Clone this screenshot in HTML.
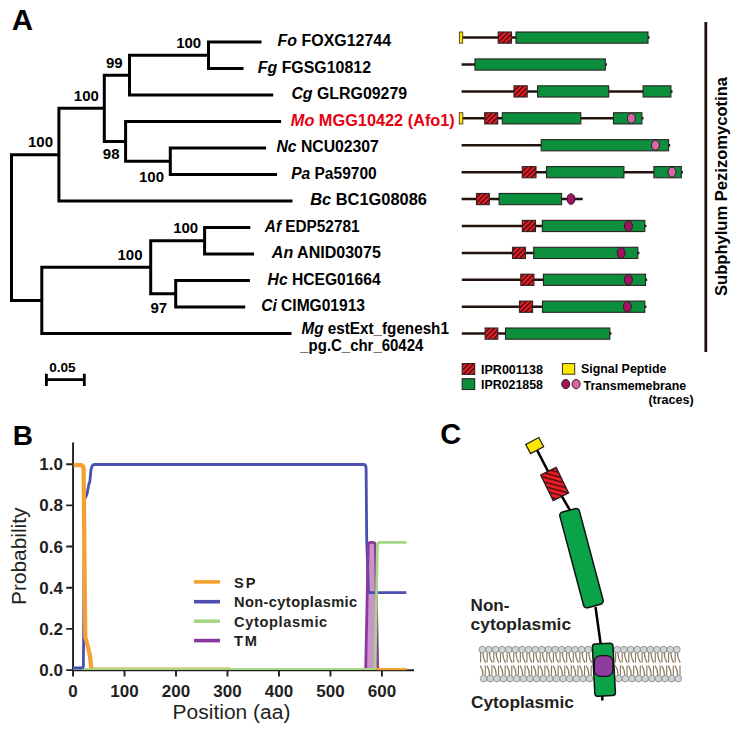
<!DOCTYPE html>
<html><head><meta charset="utf-8"><style>
html,body{margin:0;padding:0;background:#fff;}
svg{display:block;}
text{font-family:"Liberation Sans",sans-serif;}
.b{font-weight:bold;}
</style></head><body>
<svg width="741" height="734" viewBox="0 0 741 734">
<defs>
<pattern id="hatch" patternUnits="userSpaceOnUse" width="3.5" height="3.5" patternTransform="rotate(45)">
<rect width="3.5" height="3.5" fill="#ee1c24"/><rect width="1.35" height="3.5" fill="#3b0d0d"/>
</pattern>
<pattern id="hatch2" patternUnits="userSpaceOnUse" width="4.35" height="4.35" patternTransform="rotate(41)">
<rect width="4.35" height="4.35" fill="#ee1c24"/><rect width="4.35" height="1.3" fill="#3b0d0d"/>
</pattern>
</defs>
<rect width="741" height="734" fill="#fff"/>
<path d="M261.5,42.10H208.5V68.59H243.5 M208.5,55.34H129.5V95.08H273.2 M266.1,148.06H170.3V174.55H277.0 M281.1,121.57H125.6V161.31H170.3 M129.5,75.21H104.3V141.44H125.6 M104.3,108.33H58.9V201.04H292.5 M250.3,227.53H204.6V254.02H254.0 M249.9,280.51H175.7V307.00H245.2 M204.6,240.77H150.7V293.75H175.7 M150.7,267.26H41.8V333.49H291.5 M58.9,154.68H11.5V300.38H41.8" fill="none" stroke="#000" stroke-width="3" stroke-linejoin="miter"/>
<path d="M46.4,379.7H84.3 M46.4,373.7V385.9 M84.3,373.7V385.9" stroke="#000" stroke-width="2.8" fill="none"/>
<text x="49.2" y="372.4" class="b" font-size="13.6">0.05</text>
<text x="176.2" y="48.0" class="b" font-size="15">100</text>
<text x="106.0" y="67.8" class="b" font-size="15">99</text>
<text x="73.8" y="101.0" class="b" font-size="15">100</text>
<text x="28.0" y="147.4" class="b" font-size="15">100</text>
<text x="102.8" y="158.6" class="b" font-size="15">98</text>
<text x="139.0" y="181.8" class="b" font-size="15">100</text>
<text x="173.2" y="233.0" class="b" font-size="15">100</text>
<text x="117.5" y="259.8" class="b" font-size="15">100</text>
<text x="150.5" y="312.7" class="b" font-size="15">97</text>
<text x="277.6" y="46.10" class="b" font-size="16" fill="#000" textLength="113.5" lengthAdjust="spacingAndGlyphs"><tspan font-style="italic">Fo</tspan> FOXG12744</text>
<text x="257.8" y="72.59" class="b" font-size="16" fill="#000" textLength="113.2" lengthAdjust="spacingAndGlyphs"><tspan font-style="italic">Fg</tspan> FGSG10812</text>
<text x="291.4" y="99.08" class="b" font-size="16" fill="#000" textLength="115.7" lengthAdjust="spacingAndGlyphs"><tspan font-style="italic">Cg</tspan> GLRG09279</text>
<text x="290.8" y="125.57" class="b" font-size="16" fill="#e60012" textLength="164.0" lengthAdjust="spacingAndGlyphs"><tspan font-style="italic">Mo</tspan> MGG10422 (Afo1)</text>
<text x="276.4" y="152.06" class="b" font-size="16" fill="#000" textLength="102.5" lengthAdjust="spacingAndGlyphs"><tspan font-style="italic">Nc</tspan> NCU02307</text>
<text x="291.2" y="178.55" class="b" font-size="16" fill="#000" textLength="85.5" lengthAdjust="spacingAndGlyphs"><tspan font-style="italic">Pa</tspan> Pa59700</text>
<text x="310.2" y="205.04" class="b" font-size="16" fill="#000" textLength="116.7" lengthAdjust="spacingAndGlyphs"><tspan font-style="italic">Bc</tspan> BC1G08086</text>
<text x="264.8" y="231.53" class="b" font-size="16" fill="#000" textLength="94.7" lengthAdjust="spacingAndGlyphs"><tspan font-style="italic">Af</tspan> EDP52781</text>
<text x="271.8" y="258.02" class="b" font-size="16" fill="#000" textLength="109.1" lengthAdjust="spacingAndGlyphs"><tspan font-style="italic">An</tspan> ANID03075</text>
<text x="267.6" y="284.51" class="b" font-size="16" fill="#000" textLength="113.0" lengthAdjust="spacingAndGlyphs"><tspan font-style="italic">Hc</tspan> HCEG01664</text>
<text x="261.2" y="311.00" class="b" font-size="16" fill="#000" textLength="103.8" lengthAdjust="spacingAndGlyphs"><tspan font-style="italic">Ci</tspan> CIMG01913</text>
<text x="301.6" y="334.09" class="b" font-size="16" fill="#000" textLength="147.3" lengthAdjust="spacingAndGlyphs"><tspan font-style="italic">Mg</tspan> estExt_fgenesh1</text>
<text x="300.3" y="351.09" class="b" font-size="16" textLength="123" lengthAdjust="spacingAndGlyphs">_pg.C_chr_60424</text>
<line x1="461" y1="37.60" x2="649.6" y2="37.60" stroke="#22130f" stroke-width="2.5"/>
<rect x="516" y="32.00" width="132.0" height="11.2" fill="#0b8f3c" stroke="#2b2222" stroke-width="1.1"/>
<rect x="498.2" y="32.00" width="13.3" height="11.2" fill="url(#hatch)" stroke="#2b2222" stroke-width="1.1"/>
<rect x="459.4" y="32.00" width="3.3" height="11.2" fill="#ffe800" stroke="#4a3c20" stroke-width="0.9"/>
<line x1="461.6" y1="64.51" x2="606.9" y2="64.51" stroke="#22130f" stroke-width="2.5"/>
<rect x="475" y="58.91" width="130.3" height="11.2" fill="#0b8f3c" stroke="#2b2222" stroke-width="1.1"/>
<line x1="461.6" y1="91.42" x2="672.5" y2="91.42" stroke="#22130f" stroke-width="2.5"/>
<rect x="537.6" y="85.82" width="71.1" height="11.2" fill="#0b8f3c" stroke="#2b2222" stroke-width="1.1"/>
<rect x="643.1" y="85.82" width="27.8" height="11.2" fill="#0b8f3c" stroke="#2b2222" stroke-width="1.1"/>
<rect x="514" y="85.82" width="13.2" height="11.2" fill="url(#hatch)" stroke="#2b2222" stroke-width="1.1"/>
<line x1="461" y1="118.33" x2="643.5" y2="118.33" stroke="#22130f" stroke-width="2.5"/>
<rect x="502.3" y="112.73" width="78.5" height="11.2" fill="#0b8f3c" stroke="#2b2222" stroke-width="1.1"/>
<rect x="613.5" y="112.73" width="28.4" height="11.2" fill="#0b8f3c" stroke="#2b2222" stroke-width="1.1"/>
<rect x="484.7" y="112.73" width="13.0" height="11.2" fill="url(#hatch)" stroke="#2b2222" stroke-width="1.1"/>
<rect x="459.3" y="112.73" width="3.5" height="11.2" fill="#ffe800" stroke="#4a3c20" stroke-width="0.9"/>
<ellipse cx="631.4" cy="118.33" rx="4" ry="5" fill="#d766a8" stroke="#2b1a22" stroke-width="1"/>
<line x1="461.6" y1="145.24" x2="670.2" y2="145.24" stroke="#22130f" stroke-width="2.5"/>
<rect x="541.2" y="139.64" width="127.4" height="11.2" fill="#0b8f3c" stroke="#2b2222" stroke-width="1.1"/>
<ellipse cx="655.4" cy="145.24" rx="4" ry="5" fill="#d766a8" stroke="#2b1a22" stroke-width="1"/>
<line x1="461.6" y1="172.15" x2="682.9" y2="172.15" stroke="#22130f" stroke-width="2.5"/>
<rect x="546.5" y="166.55" width="77.4" height="11.2" fill="#0b8f3c" stroke="#2b2222" stroke-width="1.1"/>
<rect x="653.9" y="166.55" width="27.4" height="11.2" fill="#0b8f3c" stroke="#2b2222" stroke-width="1.1"/>
<rect x="522.3" y="166.55" width="13.7" height="11.2" fill="url(#hatch)" stroke="#2b2222" stroke-width="1.1"/>
<ellipse cx="672" cy="172.15" rx="4" ry="5" fill="#d766a8" stroke="#2b1a22" stroke-width="1"/>
<line x1="461.6" y1="199.06" x2="582.7" y2="199.06" stroke="#22130f" stroke-width="2.5"/>
<rect x="499.1" y="193.46" width="62.5" height="11.2" fill="#0b8f3c" stroke="#2b2222" stroke-width="1.1"/>
<rect x="476.5" y="193.46" width="12.8" height="11.2" fill="url(#hatch)" stroke="#2b2222" stroke-width="1.1"/>
<ellipse cx="571" cy="199.06" rx="4" ry="5.3" fill="#a3125f" stroke="#2b1a22" stroke-width="1"/>
<line x1="461.8" y1="225.97" x2="646.4" y2="225.97" stroke="#22130f" stroke-width="2.5"/>
<rect x="542.3" y="220.37" width="102.5" height="11.2" fill="#0b8f3c" stroke="#2b2222" stroke-width="1.1"/>
<rect x="522.3" y="220.37" width="13.2" height="11.2" fill="url(#hatch)" stroke="#2b2222" stroke-width="1.1"/>
<ellipse cx="628.4" cy="225.97" rx="4" ry="5.3" fill="#a3125f" stroke="#2b1a22" stroke-width="1"/>
<line x1="461.8" y1="252.88" x2="639.4" y2="252.88" stroke="#22130f" stroke-width="2.5"/>
<rect x="533.7" y="247.28" width="104.1" height="11.2" fill="#0b8f3c" stroke="#2b2222" stroke-width="1.1"/>
<rect x="512.5" y="247.28" width="12.9" height="11.2" fill="url(#hatch)" stroke="#2b2222" stroke-width="1.1"/>
<ellipse cx="621.2" cy="252.88" rx="4" ry="5.3" fill="#a3125f" stroke="#2b1a22" stroke-width="1"/>
<line x1="461.8" y1="279.79" x2="647.1" y2="279.79" stroke="#22130f" stroke-width="2.5"/>
<rect x="543.4" y="274.19" width="102.1" height="11.2" fill="#0b8f3c" stroke="#2b2222" stroke-width="1.1"/>
<rect x="520.8" y="274.19" width="13.1" height="11.2" fill="url(#hatch)" stroke="#2b2222" stroke-width="1.1"/>
<ellipse cx="628.4" cy="279.79" rx="4" ry="5.3" fill="#a3125f" stroke="#2b1a22" stroke-width="1"/>
<line x1="461.8" y1="306.70" x2="646.4" y2="306.70" stroke="#22130f" stroke-width="2.5"/>
<rect x="542.5" y="301.10" width="102.3" height="11.2" fill="#0b8f3c" stroke="#2b2222" stroke-width="1.1"/>
<rect x="519.5" y="301.10" width="13.1" height="11.2" fill="url(#hatch)" stroke="#2b2222" stroke-width="1.1"/>
<ellipse cx="627.3" cy="306.70" rx="4" ry="5.3" fill="#a3125f" stroke="#2b1a22" stroke-width="1"/>
<line x1="461.8" y1="333.61" x2="611.4" y2="333.61" stroke="#22130f" stroke-width="2.5"/>
<rect x="505.5" y="328.01" width="104.3" height="11.2" fill="#0b8f3c" stroke="#2b2222" stroke-width="1.1"/>
<rect x="485.1" y="328.01" width="12.7" height="11.2" fill="url(#hatch)" stroke="#2b2222" stroke-width="1.1"/>
<line x1="705.8" y1="22" x2="705.8" y2="352" stroke="#22130f" stroke-width="2.8"/>
<text transform="translate(727.2,296) rotate(-90)" class="b" font-size="16.2" textLength="219" lengthAdjust="spacingAndGlyphs">Subphylum Pezizomycotina</text>
<rect x="462.2" y="363.6" width="12.5" height="10.8" fill="url(#hatch)" stroke="#2b2222" stroke-width="1.1"/>
<rect x="462.2" y="378.7" width="12.5" height="10.8" fill="#0b8f3c" stroke="#2b2222" stroke-width="1.1"/>
<text x="481" y="373.9" class="b" font-size="12.4" textLength="62" lengthAdjust="spacingAndGlyphs">IPR001138</text>
<text x="481" y="389.4" class="b" font-size="12.4" textLength="62" lengthAdjust="spacingAndGlyphs">IPR021858</text>
<rect x="562.4" y="363.6" width="12.3" height="10.6" fill="#ffe800" stroke="#3a3020" stroke-width="1"/>
<ellipse cx="565.7" cy="384.1" rx="4" ry="4.6" fill="#a3125f" stroke="#2b1a22" stroke-width="1"/>
<ellipse cx="576.1" cy="384.1" rx="4" ry="4.6" fill="#d766a8" stroke="#2b1a22" stroke-width="1"/>
<text x="581" y="372.6" class="b" font-size="12.4">Signal Peptide</text>
<text x="583.6" y="389.6" class="b" font-size="12.4" textLength="102.6" lengthAdjust="spacingAndGlyphs">Transmemebrane</text>
<text x="648.4" y="403.6" class="b" font-size="12.4" textLength="45.3" lengthAdjust="spacingAndGlyphs">(traces)</text>
<text x="11.8" y="29.7" class="b" font-size="29.5">A</text>
<text x="12.8" y="444.6" class="b" font-size="28">B</text>
<text x="440.2" y="444.2" class="b" font-size="29">C</text>
<path d="M73.05,442.5V671 M72.1,670.2H414" stroke="#231f20" stroke-width="1.9" fill="none"/>
<path d="M66.2,670.10H73 M66.2,628.92H73 M66.2,587.74H73 M66.2,546.56H73 M66.2,505.38H73 M66.2,464.20H73 M73.05,670V676.6 M124.53,670V676.6 M176.01,670V676.6 M227.49,670V676.6 M278.97,670V676.6 M330.45,670V676.6 M381.93,670V676.6" stroke="#231f20" stroke-width="1.9" fill="none"/>
<text x="63" y="676.10" class="b" font-size="17" text-anchor="end" fill="#231f20">0.0</text>
<text x="63" y="634.92" class="b" font-size="17" text-anchor="end" fill="#231f20">0.2</text>
<text x="63" y="593.74" class="b" font-size="17" text-anchor="end" fill="#231f20">0.4</text>
<text x="63" y="552.56" class="b" font-size="17" text-anchor="end" fill="#231f20">0.6</text>
<text x="63" y="511.38" class="b" font-size="17" text-anchor="end" fill="#231f20">0.8</text>
<text x="63" y="470.20" class="b" font-size="17" text-anchor="end" fill="#231f20">1.0</text>
<text x="73.05" y="697" class="b" font-size="17" text-anchor="middle" fill="#231f20">0</text>
<text x="124.53" y="697" class="b" font-size="17" text-anchor="middle" fill="#231f20">100</text>
<text x="176.01" y="697" class="b" font-size="17" text-anchor="middle" fill="#231f20">200</text>
<text x="227.49" y="697" class="b" font-size="17" text-anchor="middle" fill="#231f20">300</text>
<text x="278.97" y="697" class="b" font-size="17" text-anchor="middle" fill="#231f20">400</text>
<text x="330.45" y="697" class="b" font-size="17" text-anchor="middle" fill="#231f20">500</text>
<text x="381.93" y="697" class="b" font-size="17" text-anchor="middle" fill="#231f20">600</text>
<text x="231.5" y="718.7" font-size="20" text-anchor="middle" fill="#231f20" textLength="117.8" lengthAdjust="spacingAndGlyphs">Position (aa)</text>
<text transform="translate(26,556.3) rotate(-90)" font-size="19.8" text-anchor="middle" fill="#231f20" textLength="97.3" lengthAdjust="spacingAndGlyphs">Probability</text>
<path d="M91,668.4 H230" stroke="#f5a130" stroke-width="1.6" fill="none"/>
<path d="M73,669 H375.2 L377.5,545.3 Q377.6,542.3 380.5,542.3 H406.3" stroke="#a6d786" stroke-width="1.9" fill="none" stroke-linejoin="round"/>
<path d="M365.7,668 L368.2,545.5 Q368.3,542.4 371,542.4 H372.6 Q375.2,542.4 375.3,545.5 L377.7,668 Z" fill="#c994c9" stroke="none"/>
<path d="M73,668 H81.3 Q83.4,668 83.4,665.5 L83.6,640 L84.4,500 L86.9,494.5 L87.8,490 L88.9,484 L89.9,481.5 L90.8,471.5 Q91.5,464.5 94.5,464.5 H363.5 Q366,464.5 366.1,468 L366.7,540 L368.5,592.6 H406.3" stroke="#4a4fb0" stroke-width="2.8" fill="none" stroke-linejoin="round"/>
<path d="M365.7,668 L368.2,545.5 Q368.3,542.4 371,542.4 H372.6 Q375.2,542.4 375.3,545.5 L377.7,668" fill="none" stroke="#8a3a9c" stroke-width="2.8" stroke-linejoin="round"/>
<path d="M375.1,669 L377.4,545.3 Q377.6,542.3 380.5,542.3 H406.3" stroke="#a6d786" stroke-width="2.7" fill="none" stroke-linejoin="round"/>
<path d="M73.5,465.1 H80.3 Q83.5,465.1 83.6,469 L84.9,600 L85.3,637 L87.5,645 L90,656 L91.2,668.2" stroke="#f5a130" stroke-width="4.2" fill="none" stroke-linejoin="round"/>
<path d="M376.2,669.1 H406.8" stroke="#f5a130" stroke-width="2.1" fill="none"/>
<line x1="194" y1="581.9" x2="220" y2="581.9" stroke="#f5a130" stroke-width="3.6"/>
<text x="234" y="587.5" class="b" font-size="14.6" fill="#231f20" textLength="21.6" lengthAdjust="spacing">SP</text>
<line x1="194" y1="601.7" x2="220" y2="601.7" stroke="#4a4fb0" stroke-width="3.6"/>
<text x="234" y="607.3000000000001" class="b" font-size="14.6" fill="#231f20" textLength="123.2" lengthAdjust="spacing">Non-cytoplasmic</text>
<line x1="194" y1="621.2" x2="220" y2="621.2" stroke="#a6d786" stroke-width="3.6"/>
<text x="234" y="626.8000000000001" class="b" font-size="14.6" fill="#231f20" textLength="93.2" lengthAdjust="spacing">Cytoplasmic</text>
<line x1="194" y1="640.6" x2="220" y2="640.6" stroke="#8a3a9c" stroke-width="3.6"/>
<text x="234" y="646.2" class="b" font-size="14.6" fill="#231f20" textLength="23.0" lengthAdjust="spacing">TM</text>
<path d="M480.60,652.6 V662.6 M482.90,652.6 Q482.90,658.5 485.70,662.6 M487.22,652.6 V662.6 M489.52,652.6 Q489.52,658.5 492.32,662.6 M493.84,652.6 V662.6 M496.14,652.6 Q496.14,658.5 498.94,662.6 M500.46,652.6 V662.6 M502.76,652.6 Q502.76,658.5 505.56,662.6 M507.08,652.6 V662.6 M509.38,652.6 Q509.38,658.5 512.18,662.6 M513.70,652.6 V662.6 M516.00,652.6 Q516.00,658.5 518.80,662.6 M520.32,652.6 V662.6 M522.62,652.6 Q522.62,658.5 525.42,662.6 M526.94,652.6 V662.6 M529.24,652.6 Q529.24,658.5 532.04,662.6 M533.56,652.6 V662.6 M535.86,652.6 Q535.86,658.5 538.66,662.6 M540.18,652.6 V662.6 M542.48,652.6 Q542.48,658.5 545.28,662.6 M546.80,652.6 V662.6 M549.10,652.6 Q549.10,658.5 551.90,662.6 M553.42,652.6 V662.6 M555.72,652.6 Q555.72,658.5 558.52,662.6 M560.04,652.6 V662.6 M562.34,652.6 Q562.34,658.5 565.14,662.6 M566.66,652.6 V662.6 M568.96,652.6 Q568.96,658.5 571.76,662.6 M573.28,652.6 V662.6 M575.58,652.6 Q575.58,658.5 578.38,662.6 M579.90,652.6 V662.6 M582.20,652.6 Q582.20,658.5 585.00,662.6 M586.52,652.6 V662.6 M588.82,652.6 Q588.82,658.5 591.62,662.6 M615.60,652.6 V662.6 M617.90,652.6 Q617.90,658.5 620.70,662.6 M622.22,652.6 V662.6 M624.52,652.6 Q624.52,658.5 627.32,662.6 M628.84,652.6 V662.6 M631.14,652.6 Q631.14,658.5 633.94,662.6 M635.46,652.6 V662.6 M637.76,652.6 Q637.76,658.5 640.56,662.6 M642.08,652.6 V662.6 M644.38,652.6 Q644.38,658.5 647.18,662.6 M648.70,652.6 V662.6 M651.00,652.6 Q651.00,658.5 653.80,662.6 M655.32,652.6 V662.6 M657.62,652.6 Q657.62,658.5 660.42,662.6 M661.94,652.6 V662.6 M664.24,652.6 Q664.24,658.5 667.04,662.6 M668.56,652.6 V662.6 M670.86,652.6 Q670.86,658.5 673.66,662.6 M675.18,652.6 V662.6 M677.48,652.6 Q677.48,658.5 680.28,662.6 M485.30,675.4 V665.6 M483.00,675.4 Q483.00,669.5 480.20,665.6 M491.92,675.4 V665.6 M489.62,675.4 Q489.62,669.5 486.82,665.6 M498.54,675.4 V665.6 M496.24,675.4 Q496.24,669.5 493.44,665.6 M505.16,675.4 V665.6 M502.86,675.4 Q502.86,669.5 500.06,665.6 M511.78,675.4 V665.6 M509.48,675.4 Q509.48,669.5 506.68,665.6 M518.40,675.4 V665.6 M516.10,675.4 Q516.10,669.5 513.30,665.6 M525.02,675.4 V665.6 M522.72,675.4 Q522.72,669.5 519.92,665.6 M531.64,675.4 V665.6 M529.34,675.4 Q529.34,669.5 526.54,665.6 M538.26,675.4 V665.6 M535.96,675.4 Q535.96,669.5 533.16,665.6 M544.88,675.4 V665.6 M542.58,675.4 Q542.58,669.5 539.78,665.6 M551.50,675.4 V665.6 M549.20,675.4 Q549.20,669.5 546.40,665.6 M558.12,675.4 V665.6 M555.82,675.4 Q555.82,669.5 553.02,665.6 M564.74,675.4 V665.6 M562.44,675.4 Q562.44,669.5 559.64,665.6 M571.36,675.4 V665.6 M569.06,675.4 Q569.06,669.5 566.26,665.6 M577.98,675.4 V665.6 M575.68,675.4 Q575.68,669.5 572.88,665.6 M584.60,675.4 V665.6 M582.30,675.4 Q582.30,669.5 579.50,665.6 M591.22,675.4 V665.6 M588.92,675.4 Q588.92,669.5 586.12,665.6 M620.40,675.4 V665.6 M618.10,675.4 Q618.10,669.5 615.30,665.6 M627.02,675.4 V665.6 M624.72,675.4 Q624.72,669.5 621.92,665.6 M633.64,675.4 V665.6 M631.34,675.4 Q631.34,669.5 628.54,665.6 M640.26,675.4 V665.6 M637.96,675.4 Q637.96,669.5 635.16,665.6 M646.88,675.4 V665.6 M644.58,675.4 Q644.58,669.5 641.78,665.6 M653.50,675.4 V665.6 M651.20,675.4 Q651.20,669.5 648.40,665.6 M660.12,675.4 V665.6 M657.82,675.4 Q657.82,669.5 655.02,665.6 M666.74,675.4 V665.6 M664.44,675.4 Q664.44,669.5 661.64,665.6 M673.36,675.4 V665.6 M671.06,675.4 Q671.06,669.5 668.26,665.6 M679.98,675.4 V665.6 M677.68,675.4 Q677.68,669.5 674.88,665.6" stroke="#8a7a60" stroke-width="1.15" fill="none"/>
<circle cx="482.30" cy="649.6" r="3.3" fill="#d3d4d6" stroke="#808183" stroke-width="0.8"/>
<circle cx="488.92" cy="649.6" r="3.3" fill="#d3d4d6" stroke="#808183" stroke-width="0.8"/>
<circle cx="495.54" cy="649.6" r="3.3" fill="#d3d4d6" stroke="#808183" stroke-width="0.8"/>
<circle cx="502.16" cy="649.6" r="3.3" fill="#d3d4d6" stroke="#808183" stroke-width="0.8"/>
<circle cx="508.78" cy="649.6" r="3.3" fill="#d3d4d6" stroke="#808183" stroke-width="0.8"/>
<circle cx="515.40" cy="649.6" r="3.3" fill="#d3d4d6" stroke="#808183" stroke-width="0.8"/>
<circle cx="522.02" cy="649.6" r="3.3" fill="#d3d4d6" stroke="#808183" stroke-width="0.8"/>
<circle cx="528.64" cy="649.6" r="3.3" fill="#d3d4d6" stroke="#808183" stroke-width="0.8"/>
<circle cx="535.26" cy="649.6" r="3.3" fill="#d3d4d6" stroke="#808183" stroke-width="0.8"/>
<circle cx="541.88" cy="649.6" r="3.3" fill="#d3d4d6" stroke="#808183" stroke-width="0.8"/>
<circle cx="548.50" cy="649.6" r="3.3" fill="#d3d4d6" stroke="#808183" stroke-width="0.8"/>
<circle cx="555.12" cy="649.6" r="3.3" fill="#d3d4d6" stroke="#808183" stroke-width="0.8"/>
<circle cx="561.74" cy="649.6" r="3.3" fill="#d3d4d6" stroke="#808183" stroke-width="0.8"/>
<circle cx="568.36" cy="649.6" r="3.3" fill="#d3d4d6" stroke="#808183" stroke-width="0.8"/>
<circle cx="574.98" cy="649.6" r="3.3" fill="#d3d4d6" stroke="#808183" stroke-width="0.8"/>
<circle cx="581.60" cy="649.6" r="3.3" fill="#d3d4d6" stroke="#808183" stroke-width="0.8"/>
<circle cx="588.22" cy="649.6" r="3.3" fill="#d3d4d6" stroke="#808183" stroke-width="0.8"/>
<circle cx="617.30" cy="649.6" r="3.3" fill="#d3d4d6" stroke="#808183" stroke-width="0.8"/>
<circle cx="623.92" cy="649.6" r="3.3" fill="#d3d4d6" stroke="#808183" stroke-width="0.8"/>
<circle cx="630.54" cy="649.6" r="3.3" fill="#d3d4d6" stroke="#808183" stroke-width="0.8"/>
<circle cx="637.16" cy="649.6" r="3.3" fill="#d3d4d6" stroke="#808183" stroke-width="0.8"/>
<circle cx="643.78" cy="649.6" r="3.3" fill="#d3d4d6" stroke="#808183" stroke-width="0.8"/>
<circle cx="650.40" cy="649.6" r="3.3" fill="#d3d4d6" stroke="#808183" stroke-width="0.8"/>
<circle cx="657.02" cy="649.6" r="3.3" fill="#d3d4d6" stroke="#808183" stroke-width="0.8"/>
<circle cx="663.64" cy="649.6" r="3.3" fill="#d3d4d6" stroke="#808183" stroke-width="0.8"/>
<circle cx="670.26" cy="649.6" r="3.3" fill="#d3d4d6" stroke="#808183" stroke-width="0.8"/>
<circle cx="676.88" cy="649.6" r="3.3" fill="#d3d4d6" stroke="#808183" stroke-width="0.8"/>
<circle cx="483.60" cy="678.6" r="3.3" fill="#d3d4d6" stroke="#808183" stroke-width="0.8"/>
<circle cx="490.22" cy="678.6" r="3.3" fill="#d3d4d6" stroke="#808183" stroke-width="0.8"/>
<circle cx="496.84" cy="678.6" r="3.3" fill="#d3d4d6" stroke="#808183" stroke-width="0.8"/>
<circle cx="503.46" cy="678.6" r="3.3" fill="#d3d4d6" stroke="#808183" stroke-width="0.8"/>
<circle cx="510.08" cy="678.6" r="3.3" fill="#d3d4d6" stroke="#808183" stroke-width="0.8"/>
<circle cx="516.70" cy="678.6" r="3.3" fill="#d3d4d6" stroke="#808183" stroke-width="0.8"/>
<circle cx="523.32" cy="678.6" r="3.3" fill="#d3d4d6" stroke="#808183" stroke-width="0.8"/>
<circle cx="529.94" cy="678.6" r="3.3" fill="#d3d4d6" stroke="#808183" stroke-width="0.8"/>
<circle cx="536.56" cy="678.6" r="3.3" fill="#d3d4d6" stroke="#808183" stroke-width="0.8"/>
<circle cx="543.18" cy="678.6" r="3.3" fill="#d3d4d6" stroke="#808183" stroke-width="0.8"/>
<circle cx="549.80" cy="678.6" r="3.3" fill="#d3d4d6" stroke="#808183" stroke-width="0.8"/>
<circle cx="556.42" cy="678.6" r="3.3" fill="#d3d4d6" stroke="#808183" stroke-width="0.8"/>
<circle cx="563.04" cy="678.6" r="3.3" fill="#d3d4d6" stroke="#808183" stroke-width="0.8"/>
<circle cx="569.66" cy="678.6" r="3.3" fill="#d3d4d6" stroke="#808183" stroke-width="0.8"/>
<circle cx="576.28" cy="678.6" r="3.3" fill="#d3d4d6" stroke="#808183" stroke-width="0.8"/>
<circle cx="582.90" cy="678.6" r="3.3" fill="#d3d4d6" stroke="#808183" stroke-width="0.8"/>
<circle cx="589.52" cy="678.6" r="3.3" fill="#d3d4d6" stroke="#808183" stroke-width="0.8"/>
<circle cx="618.70" cy="678.6" r="3.3" fill="#d3d4d6" stroke="#808183" stroke-width="0.8"/>
<circle cx="625.32" cy="678.6" r="3.3" fill="#d3d4d6" stroke="#808183" stroke-width="0.8"/>
<circle cx="631.94" cy="678.6" r="3.3" fill="#d3d4d6" stroke="#808183" stroke-width="0.8"/>
<circle cx="638.56" cy="678.6" r="3.3" fill="#d3d4d6" stroke="#808183" stroke-width="0.8"/>
<circle cx="645.18" cy="678.6" r="3.3" fill="#d3d4d6" stroke="#808183" stroke-width="0.8"/>
<circle cx="651.80" cy="678.6" r="3.3" fill="#d3d4d6" stroke="#808183" stroke-width="0.8"/>
<circle cx="658.42" cy="678.6" r="3.3" fill="#d3d4d6" stroke="#808183" stroke-width="0.8"/>
<circle cx="665.04" cy="678.6" r="3.3" fill="#d3d4d6" stroke="#808183" stroke-width="0.8"/>
<circle cx="671.66" cy="678.6" r="3.3" fill="#d3d4d6" stroke="#808183" stroke-width="0.8"/>
<circle cx="678.28" cy="678.6" r="3.3" fill="#d3d4d6" stroke="#808183" stroke-width="0.8"/>
<path d="M534.7,445.6 L554.6,484 L571,512 M595.5,607 L600.8,645 M602.3,690 V700.6" stroke="#000" stroke-width="2.5" fill="none"/>
<g transform="translate(534.7,445.6) rotate(-27.8)"><rect x="-7.4" y="-5.2" width="14.8" height="10.4" fill="#ffe600" stroke="#1a1a1a" stroke-width="1.2"/></g>
<g transform="translate(554.65,484) rotate(-26)"><rect x="-8.6" y="-14.3" width="17.2" height="28.6" fill="url(#hatch2)" stroke="#1a1a1a" stroke-width="1.2"/></g>
<g transform="translate(581.5,558.2) rotate(-14.9)"><rect x="-10.1" y="-49.5" width="20.2" height="99" rx="3.5" fill="#0aa347" stroke="#111" stroke-width="1.5"/></g>
<g transform="translate(603.9,669.8) rotate(-3)"><rect x="-10.3" y="-26.2" width="20.6" height="52.4" rx="3" fill="#0aa347" stroke="#111" stroke-width="1.5"/></g>
<rect x="594.4" y="655.6" width="18.4" height="20.8" rx="6" fill="#8e3c9e" stroke="#111" stroke-width="1.2"/>
<text x="470.6" y="610.6" class="b" font-size="16" fill="#231f20" textLength="38.8" lengthAdjust="spacingAndGlyphs">Non-</text>
<text x="470.6" y="630.4" class="b" font-size="16" fill="#231f20" textLength="100.5" lengthAdjust="spacingAndGlyphs">cytoplasmic</text>
<text x="470.9" y="707.6" class="b" font-size="16" fill="#231f20" textLength="103" lengthAdjust="spacingAndGlyphs">Cytoplasmic</text>
</svg>
</body></html>
